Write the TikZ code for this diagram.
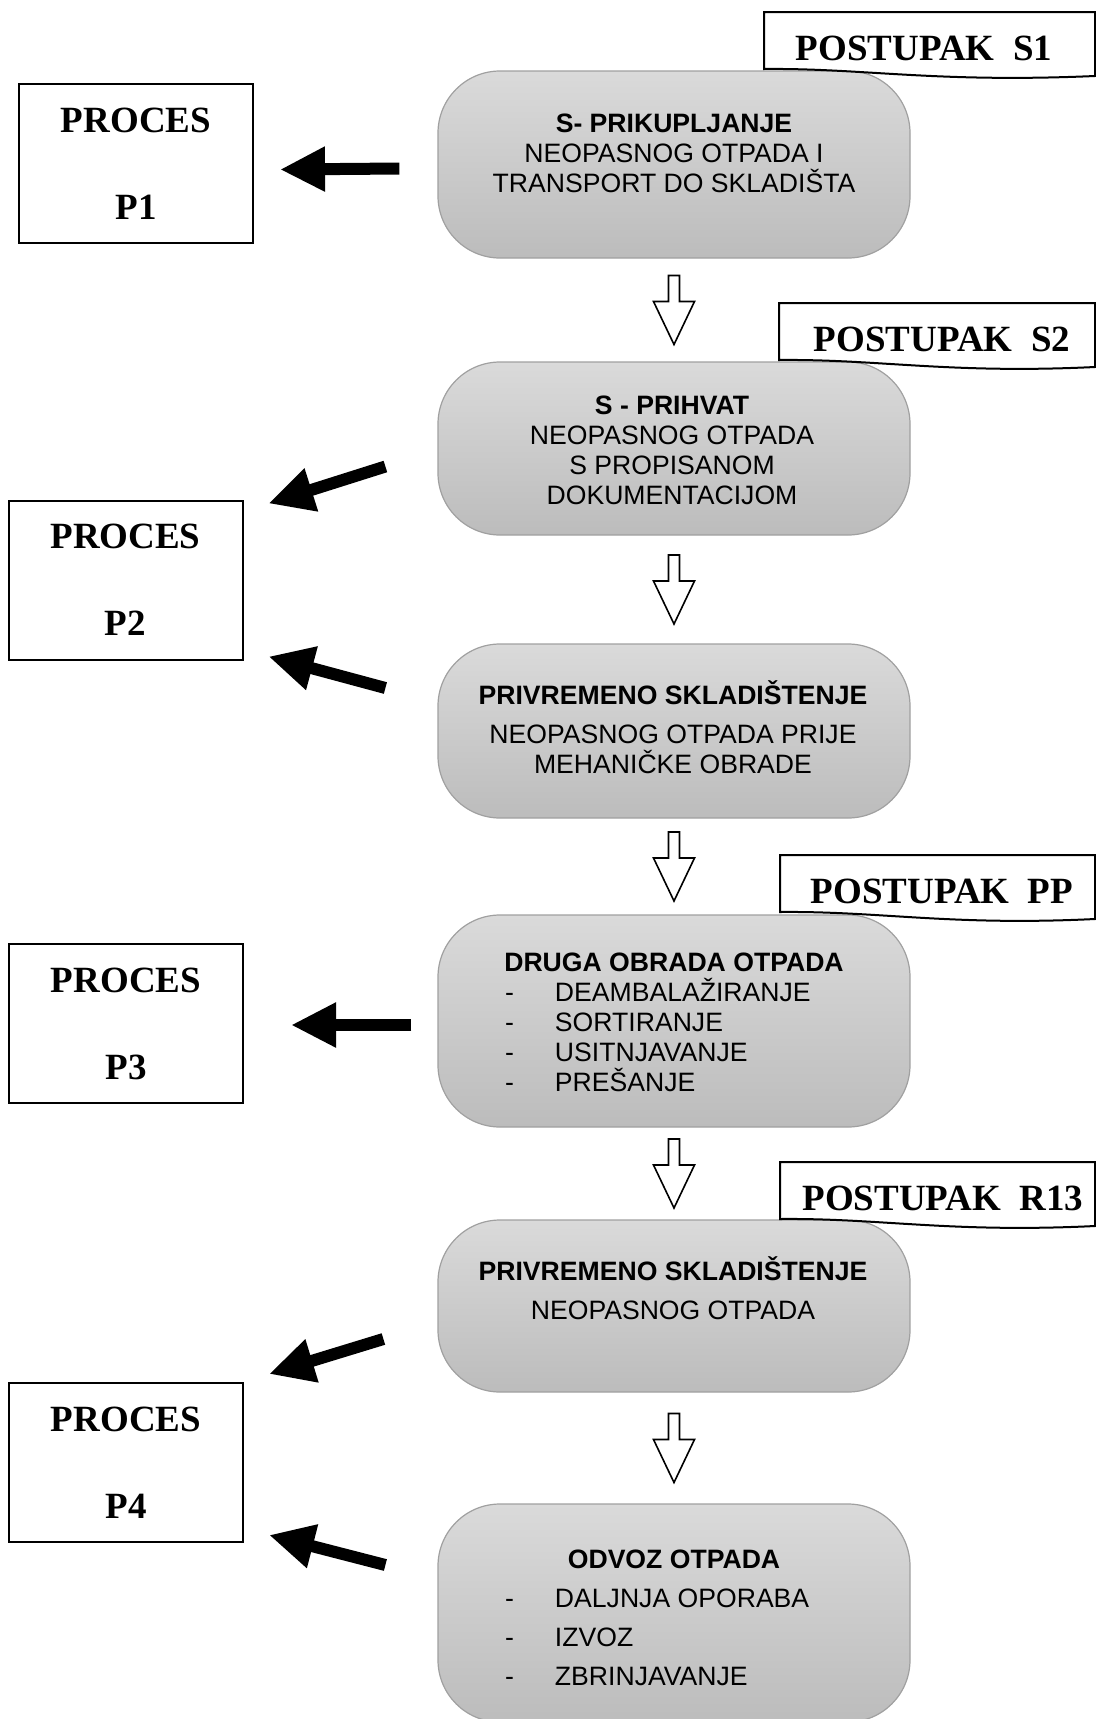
\documentclass[tikz,border=0pt]{standalone}
\usepackage{fontspec}
\setmainfont{Liberation Serif}
\newfontfamily\boxfont{Liberation Sans}
\usetikzlibrary{positioning, arrows.meta, calc}

\definecolor{boxtop}{RGB}{218,218,218}
\definecolor{boxbottom}{RGB}{188,188,188}
\definecolor{boxline}{RGB}{160,160,160}

\newcommand{\dashitem}[1]{\makebox[169pt][l]{\makebox[25pt][l]{-}#1}}
\newcommand{\hollowdown}[1]{\draw[fill=white, line width=0.8pt] #1 ++(-5.5,-34.5) -- ++(11,0) -- ++(0,26) 
	-- ++(15,0) -- ++(-20.5,43) -- ++(-20.5,-43) -- ++(15,0) -- cycle;}
% name, left x, top y, text x, label
\newcommand{\postupak}[5]{\draw[fill=white, line width=1pt] (#2,#3+57) -- (#2,#3) -- (1095,#3) -- (1095,#3+64) 
	.. controls (#2+170,#3+71) and (#2+100,#3+56) .. (#2,#3+57) -- cycle;
	\node[tagtext] (#1) at (#4,#3+36) {#5};}

\begin{document}
\begin{tikzpicture}[x=0.5pt, y=-0.5pt,
	stepbox/.style={draw=boxline, line width=0.6pt, rounded corners=31pt, top color=boxtop, 
		bottom color=boxbottom, minimum width=236pt, inner sep=0pt},
	steptext/.style={font=\boxfont\fontsize{13.3}{15}\selectfont, align=center, inner sep=0pt},
	procbox/.style={draw, line width=1pt, minimum width=117pt, minimum height=79.5pt, 
		font=\fontsize{18.5}{22}\selectfont\bfseries, align=center},
	tagtext/.style={font=\fontsize{18.5}{22}\selectfont\bfseries, inner sep=0pt},
	bigarrow/.style={line width=6pt, -{Triangle[length=22.5pt, width=21pt]}}]
		\useasboundingbox (0,0) rectangle (1096,1719);
		
		%Steps
		\node (s1) at (674,164.5) [stepbox, minimum height=93.5pt]{};
		\node (s2) at (674,448.5) [stepbox, minimum height=86.5pt]{};
		\node (s3) at (674,731) [stepbox, minimum height=87pt]{};
		\node (s4) at (674,1021) [stepbox, minimum height=106pt]{};
		\node (s5) at (674,1306) [stepbox, minimum height=86pt]{};
		\node (s6) at (674,1613) [stepbox, minimum height=109pt]{};
		
		\node (s1text) at (674,153) [steptext]{\textbf{S- PRIKUPLJANJE}\\NEOPASNOG OTPADA I\\TRANSPORT DO SKLADIŠTA};
		\node (s2text) at (672,450) [steptext]{\textbf{S - PRIHVAT}\\NEOPASNOG OTPADA\\S PROPISANOM\\DOKUMENTACIJOM};
		\node (s3text) at (673,727) [steptext]{\textbf{PRIVREMENO SKLADIŠTENJE}\\[4.5pt]NEOPASNOG OTPADA PRIJE\\MEHANIČKE OBRADE};
		\node (s4text) at (674,1022) [steptext]{\textbf{DRUGA OBRADA OTPADA}\\\dashitem{DEAMBALAŽIRANJE}\\
			\dashitem{SORTIRANJE}\\\dashitem{USITNJAVANJE}\\\dashitem{PREŠANJE}};
		\node (s5text) at (673,1288) [steptext]{\textbf{PRIVREMENO SKLADIŠTENJE}\\[4.5pt]NEOPASNOG OTPADA};
		\node (s6text) at (674,1618) [steptext]{\textbf{ODVOZ OTPADA}\\[4.5pt]\dashitem{DALJNJA OPORABA}\\[4.5pt]
			\dashitem{IZVOZ}\\[4.5pt]\dashitem{ZBRINJAVANJE}};
		
		%Tags
		\postupak{tag1}{764}{12}{924}{POSTUPAK\ \ S1}
		\postupak{tag2}{779}{303}{942}{POSTUPAK\ \ S2}
		\postupak{tag3}{780}{855}{942}{POSTUPAK\ \ PP}
		\postupak{tag4}{780}{1162}{943}{POSTUPAK\ \ R13}
		
		%Flow
		\hollowdown{($(s1.south)!0.5!(s2.north)$)}
		\hollowdown{($(s2.south)!0.5!(s3.north)$)}
		\hollowdown{($(s3.south)!0.5!(s4.north)$)}
		\hollowdown{($(s4.south)!0.5!(s5.north)$)}
		\hollowdown{($(s5.south)!0.5!(s6.north)$)}
		
		%Processes
		\node (p1) at (136,163.5) [procbox]{PROCES\\[21.5pt]P1};
		\node (p2) at (125.5,580) [procbox]{PROCES\\[21.5pt]P2};
		\node (p3) at (126,1023.5) [procbox]{PROCES\\[21.5pt]P3};
		\node (p4) at (126,1462.5) [procbox]{PROCES\\[21.5pt]P4};
		
		\draw[bigarrow] ([xshift=-19pt,yshift=-2pt]s1.west) -- ([xshift=13pt,yshift=-3pt]p1.east);
		\draw[bigarrow] ([xshift=-26pt,yshift=-9pt]s2.west) -- ([xshift=12.5pt,yshift=-2pt]p2.north east);
		\draw[bigarrow] ([xshift=-26pt,yshift=21.5pt]s3.west) -- ([xshift=12.5pt,yshift=2pt]p2.south east);
		\draw[bigarrow] ([xshift=-13pt,yshift=-2pt]s4.west) -- ([xshift=23.5pt,yshift=-0.75pt]p3.east);
		\draw[bigarrow] ([xshift=-27pt,yshift=-16.5pt]s5.west) -- ([xshift=12.5pt,yshift=4pt]p4.north east);
		\draw[bigarrow] ([xshift=-26pt,yshift=24pt]s6.west) -- ([xshift=12.5pt,yshift=4pt]p4.south east);
\end{tikzpicture}
\end{document}
